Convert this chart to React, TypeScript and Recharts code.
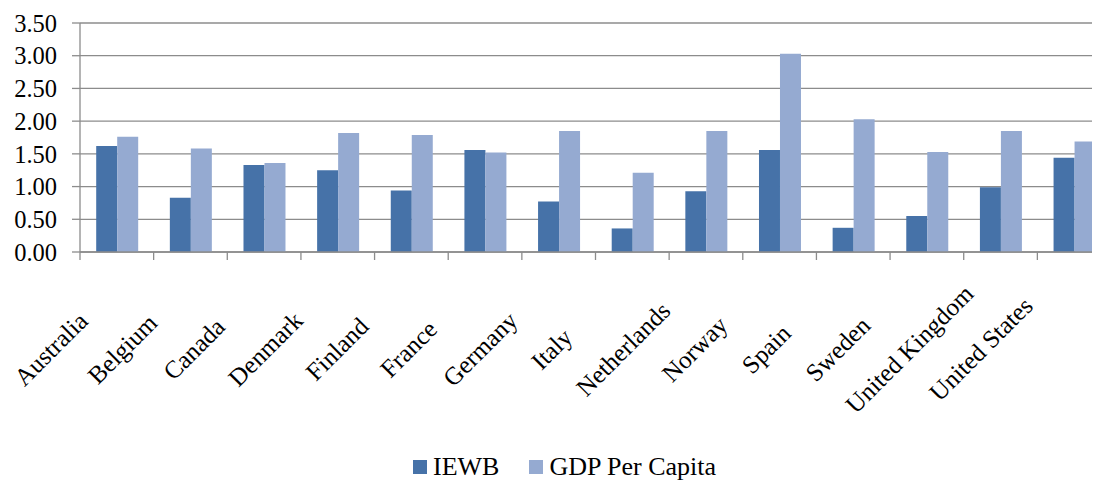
import { BarChart, Bar, XAxis, YAxis, CartesianGrid, Legend } from "recharts"

const countries = [
  "Australia",
  "Belgium",
  "Canada",
  "Denmark",
  "Finland",
  "France",
  "Germany",
  "Italy",
  "Netherlands",
  "Norway",
  "Spain",
  "Sweden",
  "United Kingdom",
  "United States",
]
const iewb = [1.62, 0.83, 1.33, 1.25, 0.94, 1.56, 0.77, 0.36, 0.93, 1.56, 0.37, 0.55, 0.99, 1.44]
const gdpPerCapita = [1.76, 1.58, 1.36, 1.82, 1.79, 1.52, 1.85, 1.21, 1.85, 3.03, 2.03, 1.53, 1.85, 1.69]
const yTicks = [0, 0.5, 1, 1.5, 2, 2.5, 3, 3.5]

const FONT = "'Liberation Serif', 'Times New Roman', serif"
const GRID = "#8c8c8c"
const colors = ["#4672a8", "#95aad1"]

const W = 1108
const H = 473
const Y_AXIS_W = 72
const RIGHT = 5
const STEP = (W - Y_AXIS_W - RIGHT) / countries.length

const chartData = countries.map((name, i) => ({
  name,
  IEWB: iewb[i],
  "GDP Per Capita": gdpPerCapita[i],
}))

function CountryTick(props: any) {
  const { x, y, index } = props
  const i = Number(index)
  const axisY = y - 10
  const left = x - STEP / 2
  // labels sit left of their category and drift slightly as in the source
  const cx = x - 66 - 2.1 * i
  const cy = y + 87
  return (
    <g>
      <line x1={left} x2={left} y1={axisY} y2={axisY + 8} stroke={GRID} strokeWidth={1.3} />
      {i === countries.length - 1 && (
        <line x1={left + STEP} x2={left + STEP} y1={axisY} y2={axisY + 8} stroke={GRID} strokeWidth={1.3} />
      )}
      <text
        x={cx}
        y={cy}
        textAnchor="middle"
        dominantBaseline="central"
        transform={`rotate(-45 ${cx} ${cy})`}
        fontFamily={FONT}
        fontSize={25}
        fill="#000"
      >
        {countries[i]}
      </text>
    </g>
  )
}

function LegendBox() {
  const items = [
    { label: "IEWB", color: colors[0] },
    { label: "GDP Per Capita", color: colors[1] },
  ]
  return (
    <div
      style={{
        display: "flex",
        justifyContent: "center",
        alignItems: "center",
        gap: 30,
        fontFamily: FONT,
        fontSize: 26,
        color: "#000",
        paddingLeft: 10,
        paddingTop: 11,
      }}
    >
      {items.map((it) => (
        <div key={it.label} style={{ display: "flex", alignItems: "center", gap: 6 }}>
          <span style={{ width: 14, height: 14, background: it.color, display: "inline-block" }} />
          <span>{it.label}</span>
        </div>
      ))}
    </div>
  )
}

export default function App() {
  return (
    <div style={{ width: 1092, height: H, overflow: "hidden" }}>
      <BarChart
        width={W}
        height={H}
        data={chartData}
        margin={{ top: 15, right: RIGHT, left: 0, bottom: 0 }}
        barCategoryGap="22%"
        barGap={0}
      >
        <CartesianGrid vertical={false} stroke={GRID} strokeWidth={1.3} />
        <XAxis
          dataKey="name"
          interval={0}
          height={189}
          stroke={GRID}
          strokeWidth={1.3}
          tickSize={8}
          tickLine={false}
          tick={<CountryTick />}
        />
        <YAxis
          domain={[0, 3.5]}
          ticks={yTicks}
          interval={0}
          width={Y_AXIS_W}
          stroke={GRID}
          strokeWidth={1.3}
          tickSize={8}
          tickMargin={15}
          tickFormatter={(v: number) => v.toFixed(2)}
          tick={{ fill: "#000", fontFamily: FONT, fontSize: 24.5 }}
        />
        <Legend verticalAlign="bottom" height={40} content={<LegendBox />} />
        <Bar dataKey="IEWB" fill={colors[0]} isAnimationActive={false} />
        <Bar dataKey="GDP Per Capita" fill={colors[1]} isAnimationActive={false} />
      </BarChart>
    </div>
  )
}
